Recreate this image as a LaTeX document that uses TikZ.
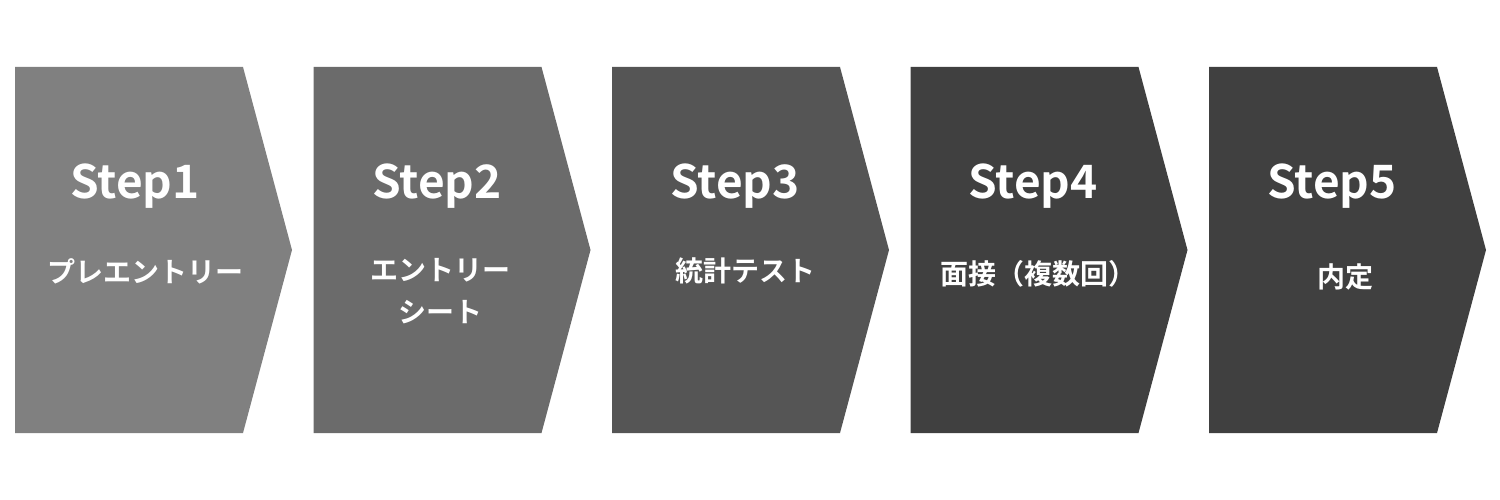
\documentclass[tikz,border=0pt]{standalone}
\usepackage{fontspec}
\newfontfamily\jp{Noto Sans CJK JP Bold}
\begin{document}
\begin{tikzpicture}[x=1pt,y=-1pt,
 st/.style={font=\jp\fontsize{46}{50}\selectfont,text=white,anchor=center},
 jt/.style={font=\jp\fontsize{28}{42}\selectfont,text=white,anchor=center,align=center}]
\useasboundingbox (0,0) rectangle (1500,500);
\foreach \i/\c in {0/808080,1/6B6B6B,2/555555,3/404040,4/404040}{
 \definecolor{cc}{HTML}{\c}
 \fill[cc] ({15+298.5*\i},67) -- ({243+298.5*\i},67) -- ({292+298.5*\i},250) -- ({243+298.5*\i},433) -- ({15+298.5*\i},433) -- cycle;
}
\node[st] (s1) at (135,186) {Step1};
\node[st] (s2) at (437,186) {Step2};
\node[st] (s3) at (735,186) {Step3};
\node[st] (s4) at (1033,186) {Step4};
\node[st] (s5) at (1332,186) {Step5};
\node[jt] (j1) at (145,271) {プレエントリー};
\node[jt] (j2) at (440,291) {エントリー\\シート};
\node[jt] (j3) at (745,271) {統計テスト};
\node[jt] (j4) at (1038,274) {面接（複数回）};
\node[jt] (j5) at (1345,277) {内定};
\end{tikzpicture}
\end{document}
